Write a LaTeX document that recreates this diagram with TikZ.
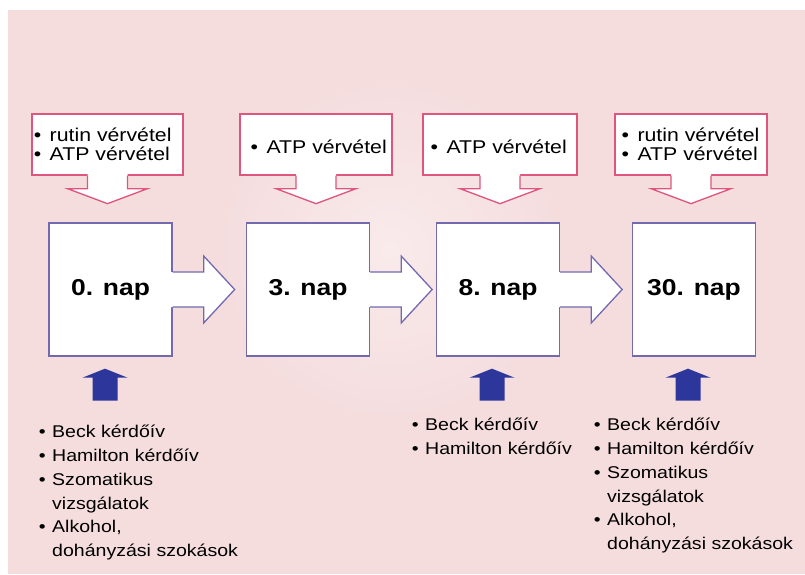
\documentclass[tikz,border=0pt]{standalone}
\usepackage{fontspec}
\setmainfont{Liberation Sans}[FakeStretch=1.15]
\usetikzlibrary{calc}
\definecolor{hatter}{RGB}{245,221,222}
\definecolor{dobozkeret}{RGB}{115,105,175}
\definecolor{hivokeret}{RGB}{222,85,125}
\definecolor{kekny}{RGB}{45,55,155}
\newcommand{\pont}{\makebox[16pt][l]{\textbullet}}
\newcommand{\lpont}{\makebox[13.4pt][l]{\textbullet}}
\newcommand{\behuz}{\hspace*{13.4pt}}

\begin{document}
\begin{tikzpicture}[x=1pt, y=-1pt,
    nap/.style={draw=dobozkeret, line width=1.3pt, fill=white, minimum width=123pt,
      minimum height=133pt, inner sep=0pt, font=\fontsize{23}{27}\selectfont\bfseries},
    hivo/.style={draw=hivokeret, line width=1.3pt, fill=white, minimum height=61pt, inner sep=0pt},
    hivoszoveg/.style={anchor=west, inner sep=0pt, align=left, font=\fontsize{18.5}{19.5}\selectfont},
    lista/.style={anchor=north west, inner sep=0pt, align=left, font=\fontsize{17}{23.8}\selectfont},
    hivonyil/.style={draw=hivokeret, line width=1.3pt},
    napnyil/.style={draw=dobozkeret, line width=1.3pt},
    kekfel/.style={fill=kekny}]

  % hatter
  \fill[white] (0,0) rectangle (805,574);
  \fill[hatter] (8,10) rectangle (805,574);
  \shade[inner color=hatter!60!white, outer color=hatter] (390,250) circle (170pt);

  % napok
  \node[nap] (d0) at (110.5,289.5) {0. nap};
  \node[nap] (d3) at (308,289.5) {3. nap};
  \node[nap] (d8) at (498,289.5) {8. nap};
  \node[nap] (d30) at (694,289.5) {30. nap};

  \foreach \n in {d0,d3,d8}{
    \fill[white] ($(\n.east)+(-1.5,-17.5)$) -- ($(\n.east)+(31,-17.5)$) -- ($(\n.east)+(31,-33.5)$)
      -- ($(\n.east)+(62,0)$) -- ($(\n.east)+(31,33.5)$) -- ($(\n.east)+(31,17.5)$)
      -- ($(\n.east)+(-1.5,17.5)$) -- cycle;
    \draw[napnyil] ($(\n.east)+(0,-17.5)$) -- ($(\n.east)+(31,-17.5)$) -- ($(\n.east)+(31,-33.5)$)
      -- ($(\n.east)+(62,0)$) -- ($(\n.east)+(31,33.5)$) -- ($(\n.east)+(31,17.5)$)
      -- ($(\n.east)+(0,17.5)$);
  }

  % verveteli dobozok
  \node[hivo, minimum width=151pt] (c0) at (107.5,144.5) {};
  \node[hivo, minimum width=152pt] (c3) at (316,144.5) {};
  \node[hivo, minimum width=154pt] (c8) at (500,144.5) {};
  \node[hivo, minimum width=152pt] (c30) at (691,144.5) {};

  \foreach \n in {c0,c3,c8,c30}{
    \fill[white] ($(\n.south)+(-20,-1.5)$) -- ($(\n.south)+(-20,13)$) -- ($(\n.south)+(-40,13)$)
      -- ($(\n.south)+(0,28)$) -- ($(\n.south)+(40,13)$) -- ($(\n.south)+(20,13)$)
      -- ($(\n.south)+(20,-1.5)$) -- cycle;
    \draw[hivonyil] ($(\n.south)+(-20,0)$) -- ($(\n.south)+(-20,13)$) -- ($(\n.south)+(-40,13)$)
      -- ($(\n.south)+(0,28)$) -- ($(\n.south)+(40,13)$) -- ($(\n.south)+(20,13)$)
      -- ($(\n.south)+(20,0)$);
  }

  \node[hivoszoveg] (t0) at ($(c0.west)+(2.2,0)$) {\pont rutin vérvétel\\\pont ATP vérvétel};
  \node[hivoszoveg] (t3) at ($(c3.west)+(11,2)$) {\pont ATP vérvétel};
  \node[hivoszoveg] (t8) at ($(c8.west)+(8,2)$) {\pont ATP vérvétel};
  \node[hivoszoveg] (t30) at ($(c30.west)+(7,0)$) {\pont rutin vérvétel\\\pont ATP vérvétel};

  % kek nyilak
  \foreach \n/\dx in {d0/-5.5, d8/-6, d30/-6}{
    \fill[kekfel] ($(\n.south)+(\dx,12)$) -- ++(22.5,9) -- ++(-10,0) -- ++(0,23)
      -- ++(-25,0) -- ++(0,-23) -- ++(-10,0) -- cycle;
  }

  % vizsgalatok
  \node[lista] (l0) at (38.6,425) {\lpont Beck kérdőív\\\lpont Hamilton kérdőív\\\lpont Szomatikus\\\behuz vizsgálatok\\\lpont Alkohol,\\\behuz dohányzási szokások};
  \node[lista] (l8) at (411.6,418) {\lpont Beck kérdőív\\\lpont Hamilton kérdőív};
  \node[lista] (l30) at (593.6,418) {\lpont Beck kérdőív\\\lpont Hamilton kérdőív\\\lpont Szomatikus\\\behuz vizsgálatok\\\lpont Alkohol,\\\behuz dohányzási szokások};
\end{tikzpicture}
\end{document}
